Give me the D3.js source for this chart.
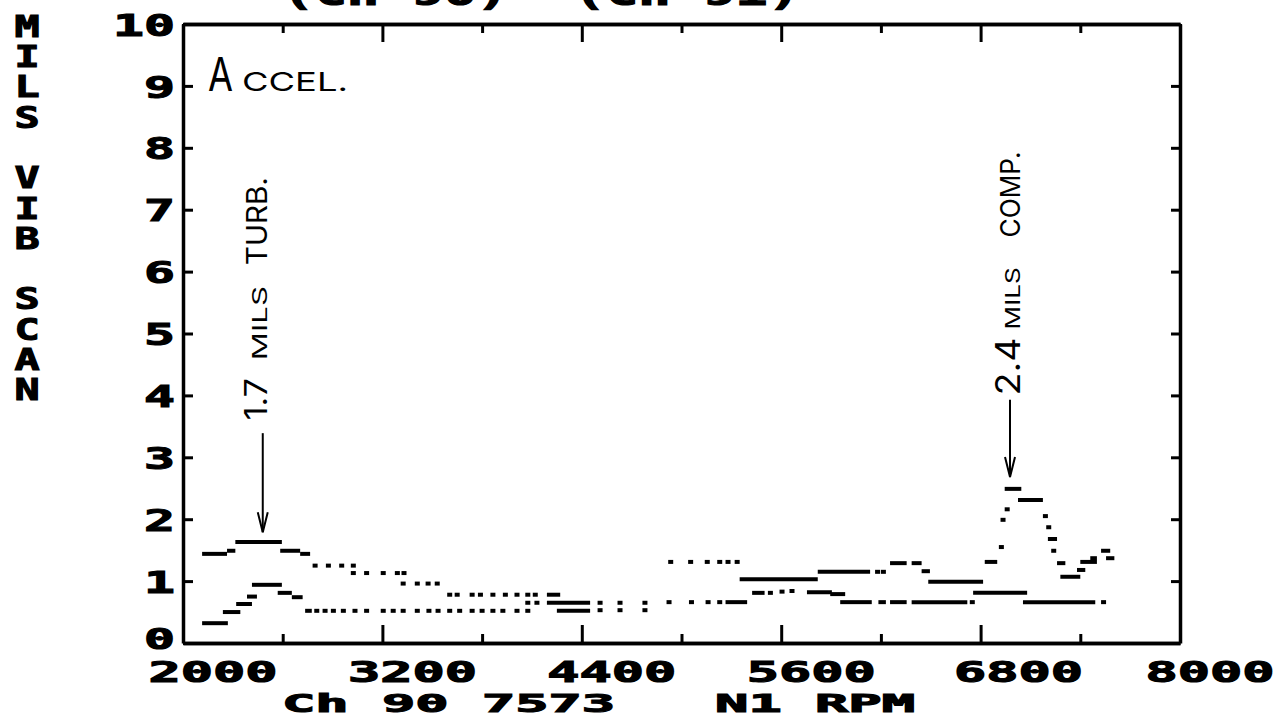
<!DOCTYPE html>
<html>
<head>
<meta charset="utf-8">
<script src="https://cdn.jsdelivr.net/npm/d3@7"></script>
<style>
  body { margin: 0; background: #fff; }
  svg { display: block; }
  .mono { font-family: "DejaVu Sans Mono", monospace; font-weight: bold; fill: #000; stroke: #000; stroke-width: 1.1; }
  .hand { font-family: Inter, Lato, "DejaVu Sans", sans-serif; font-weight: 400; fill: #000; }
</style>
</head>
<body>
<script>
// axis ticks / labels
var xMajorTicks = [2000, 3200, 4400, 5600, 6800, 8000]
var xMinorTicks = [2600, 3800, 5000, 6200, 7400]
var yTicks = [0, 1, 2, 3, 4, 5, 6, 7, 8, 9, 10]
var topTitle = "(Ch 90)  (Ch 91)"
var xTitle = "Ch 90 7573   N1 RPM"
var yTitle = "MILS VIB SCAN"

// Ch 00 - turbine pickup: runs [rpm from, rpm to, mils] and single samples [rpm, mils]
var turbRuns = [
  [2115, 2265, 1.44], [2265, 2315, 1.49], [2315, 2595, 1.63], [2585, 2705, 1.49],
  [2705, 2765, 1.44], [4190, 4270, 0.78], [4250, 4450, 0.52], [5265, 5395, 0.66],
  [5425, 5500, 0.81], [5755, 5905, 0.82], [5895, 5985, 0.79], [5955, 6145, 0.66],
  [6185, 6230, 0.66], [6255, 6355, 0.66], [6385, 6720, 0.66], [6755, 7080, 0.81],
  [7055, 7490, 0.66]
]
var turbDots = [
  [2795, 1.25], [2875, 1.25], [2955, 1.25], [3025, 1.25],
  [3025, 1.13], [3105, 1.13], [3205, 1.13], [3290, 1.13], [3330, 1.13],
  [3325, 0.96], [3410, 0.96], [3475, 0.96], [3530, 0.96],
  [3605, 0.78], [3650, 0.78], [3740, 0.78], [3790, 0.78], [3865, 0.78],
  [3940, 0.78], [4010, 0.78], [4075, 0.78], [4120, 0.78],
  [4510, 0.53], [4630, 0.53], [4780, 0.53],
  [4925, 0.66], [5060, 0.66], [5160, 0.66], [5230, 0.66],
  [5535, 0.81], [5605, 0.83], [5665, 0.84], [6750, 0.66], [7540, 0.66]
]

// Ch 01 - compressor pickup
var compRuns = [
  [2115, 2270, 0.32], [2240, 2345, 0.50], [2320, 2415, 0.63], [2385, 2445, 0.75],
  [2415, 2595, 0.94], [2570, 2655, 0.81], [2655, 2720, 0.74], [2735, 2775, 0.52],
  [4190, 4450, 0.65], [5350, 5820, 1.03], [5820, 6135, 1.15], [6255, 6355, 1.29],
  [6385, 6445, 1.29], [6445, 6495, 1.16], [6485, 6815, 0.99], [6825, 6900, 1.31],
  [6945, 7045, 2.49], [7025, 7175, 2.31], [7205, 7260, 1.68], [7260, 7310, 1.29],
  [7280, 7400, 1.07], [7380, 7430, 1.18], [7400, 7500, 1.31], [7460, 7500, 1.37],
  [7525, 7580, 1.49], [7555, 7605, 1.37]
]
var compDots = [
  [2805, 0.52], [2855, 0.52], [2905, 0.52], [2965, 0.52], [3035, 0.52],
  [3105, 0.52], [3205, 0.52], [3265, 0.52], [3325, 0.52], [3410, 0.52],
  [3480, 0.52], [3535, 0.52], [3605, 0.52], [3665, 0.52], [3740, 0.52],
  [3800, 0.52], [3865, 0.52], [3925, 0.52], [4010, 0.52], [4075, 0.52],
  [4075, 0.65], [4130, 0.65], [4510, 0.65], [4630, 0.65], [4780, 0.65],
  [4935, 1.31], [5055, 1.31], [5155, 1.31], [5230, 1.31], [5280, 1.31], [5335, 1.31],
  [6180, 1.15], [6215, 1.15],
  [6925, 1.55], [6935, 1.99], [6960, 2.16], [7190, 2.05], [7210, 1.87], [7240, 1.49]
]

// handwritten notes: arrow [rpm, mils from, mils to], text start [rpm, mils]
var turbArrow = [2480, 3.39, 1.79]
var compArrow = [6977, 3.93, 2.68]
var turbNoteAt = [2505, 3.6]
var compNoteAt = [7035, 4.0]

function drawChart() {
  var W = 1286, H = 719
  var margin = {top: 24, right: 106, bottom: 76, left: 183},
      width = W - margin.left - margin.right,
      height = H - margin.top - margin.bottom

  var root = d3.select("body").append("svg")
      .attr("width", W)
      .attr("height", H)
  root.append("rect").attr("width", W).attr("height", H).attr("fill", "#fff")

  var svg = root.append("g")
      .attr("transform", "translate(" + margin.left + "," + margin.top + ")")

  var x = d3.scaleLinear().domain([2000, 8000]).range([0, width])
  var y = d3.scaleLinear().domain([0, 10]).range([height, 0])

  function styleAxis(g) {
    g.attr("font-family", null).attr("font-size", null)
    g.select(".domain").attr("stroke", "#000").attr("stroke-width", 3.5)
    g.selectAll(".tick line").attr("stroke", "#000").attr("stroke-width", 3)
  }

  // bottom
  svg.append("g").attr("transform", "translate(0," + height + ")")
    .call(d3.axisBottom(x).tickValues(xMinorTicks).tickSize(-9).tickSizeOuter(0).tickFormat(""))
    .call(styleAxis)
  var bottom = svg.append("g").attr("transform", "translate(0," + height + ")")
    .call(d3.axisBottom(x).tickValues(xMajorTicks).tickSize(-18).tickSizeOuter(0).tickFormat(d3.format("d")))
    .call(styleAxis)
  bottom.selectAll("text")
    .attr("class", "mono")
    .attr("font-size", 28)
    .attr("y", 39).attr("dy", null)
    .attr("x", d => d == 6800 ? -27 : -35)
    .attr("text-anchor", "start")
    .attr("textLength", 129)
    .attr("lengthAdjust", "spacingAndGlyphs")

  // top
  svg.append("g")
    .call(d3.axisTop(x).tickValues(xMinorTicks).tickSize(-9).tickSizeOuter(0).tickFormat(""))
    .call(styleAxis)
  svg.append("g")
    .call(d3.axisTop(x).tickValues(xMajorTicks).tickSize(-18).tickSizeOuter(0).tickFormat(""))
    .call(styleAxis)

  // left
  var left = svg.append("g")
    .call(d3.axisLeft(y).tickValues(yTicks).tickSize(-10).tickSizeOuter(0).tickPadding(8).tickFormat(d3.format("d")))
    .call(styleAxis)
  left.selectAll("text")
    .attr("class", "mono")
    .attr("font-size", d => d == 0 ? 29 : 31)
    .attr("dy", d => d == 0 ? "0.2em" : "0.36em")
    .attr("textLength", function(d) { return String(d).length * 31 })
    .attr("lengthAdjust", "spacingAndGlyphs")

  // right
  svg.append("g").attr("transform", "translate(" + width + ",0)")
    .call(d3.axisRight(y).tickValues(yTicks).tickSize(-9).tickSizeOuter(0).tickFormat(""))
    .call(styleAxis)

  // data marks
  function drawTrace(runs, dots, name) {
    var g = svg.append("g").attr("class", name)
    g.selectAll("line").data(runs).join("line")
      .attr("x1", d => x(d[0])).attr("x2", d => x(d[1]))
      .attr("y1", d => y(d[2])).attr("y2", d => y(d[2]))
      .attr("stroke", "#000").attr("stroke-width", 4)
    g.selectAll("rect").data(dots).join("rect")
      .attr("x", d => x(d[0]) - 2.5).attr("y", d => y(d[1]) - 2)
      .attr("width", 5).attr("height", 4)
      .attr("fill", "#000")
  }
  drawTrace(turbRuns, turbDots, "ch00")
  drawTrace(compRuns, compDots, "ch01")

  // titles
  root.append("text").attr("class", "mono")
    .attr("x", 282).attr("y", 5)
    .attr("font-size", 32)
    .style("white-space", "pre")
    .attr("textLength", 518).attr("lengthAdjust", "spacingAndGlyphs")
    .text(topTitle)

  root.append("text").attr("class", "mono")
    .attr("x", 282).attr("y", 712)
    .attr("font-size", 25)
    .style("white-space", "pre")
    .attr("textLength", 633).attr("lengthAdjust", "spacingAndGlyphs")
    .text(xTitle)

  // stacked upright letters, one text element
  root.append("g").attr("transform", "translate(27,0) scale(1.35,1)")
    .append("text").attr("class", "mono")
    .attr("x", 0).attr("y", 8)
    .attr("font-size", 31)
    .style("writing-mode", "vertical-rl")
    .style("text-orientation", "upright")
    .style("white-space", "pre")
    .attr("textLength", 400).attr("lengthAdjust", "spacing")
    .text(yTitle)

  // handwritten notes
  var accel = root.append("text").attr("class", "hand").attr("y", 91)
  accel.append("tspan").attr("x", 208).attr("font-size", 46)
    .attr("textLength", 25).attr("lengthAdjust", "spacingAndGlyphs").text("A")
  accel.append("tspan").attr("x", 242).attr("font-size", 26)
    .attr("textLength", 106).attr("lengthAdjust", "spacingAndGlyphs").text("CCEL.")

  function note(at, parts) {
    var t = svg.append("text").attr("class", "hand")
      .attr("transform", "translate(" + x(at[0]) + "," + y(at[1]) + ") rotate(-90)")
    parts.forEach(function(p) {
      t.append("tspan").attr("x", p[1]).attr("y", 0)
        .attr("font-size", p[2])
        .attr("textLength", p[3]).attr("lengthAdjust", "spacingAndGlyphs")
        .text(p[0])
    })
  }
  note(turbNoteAt, [["1.7", 0, 31, 42], ["MILS", 60, 20, 74], ["TURB.", 155, 28, 88]])
  note(compNoteAt, [["2.4", 0, 34, 58], ["MILS", 66, 20, 62], ["COMP.", 158, 27, 86]])

  function arrow(a) {
    var ax = x(a[0]), y0 = y(a[1]), y1 = y(a[2])
    svg.append("line").attr("x1", ax).attr("x2", ax).attr("y1", y0).attr("y2", y1)
      .attr("stroke", "#000").attr("stroke-width", 2)
    svg.append("path")
      .attr("d", "M" + (ax - 5) + "," + (y1 - 20) + "L" + ax + "," + y1 + "L" + (ax + 5) + "," + (y1 - 20))
      .attr("fill", "none").attr("stroke", "#000").attr("stroke-width", 2)
  }
  arrow(turbArrow)
  arrow(compArrow)
}
drawChart()
</script>
</body>
</html>
